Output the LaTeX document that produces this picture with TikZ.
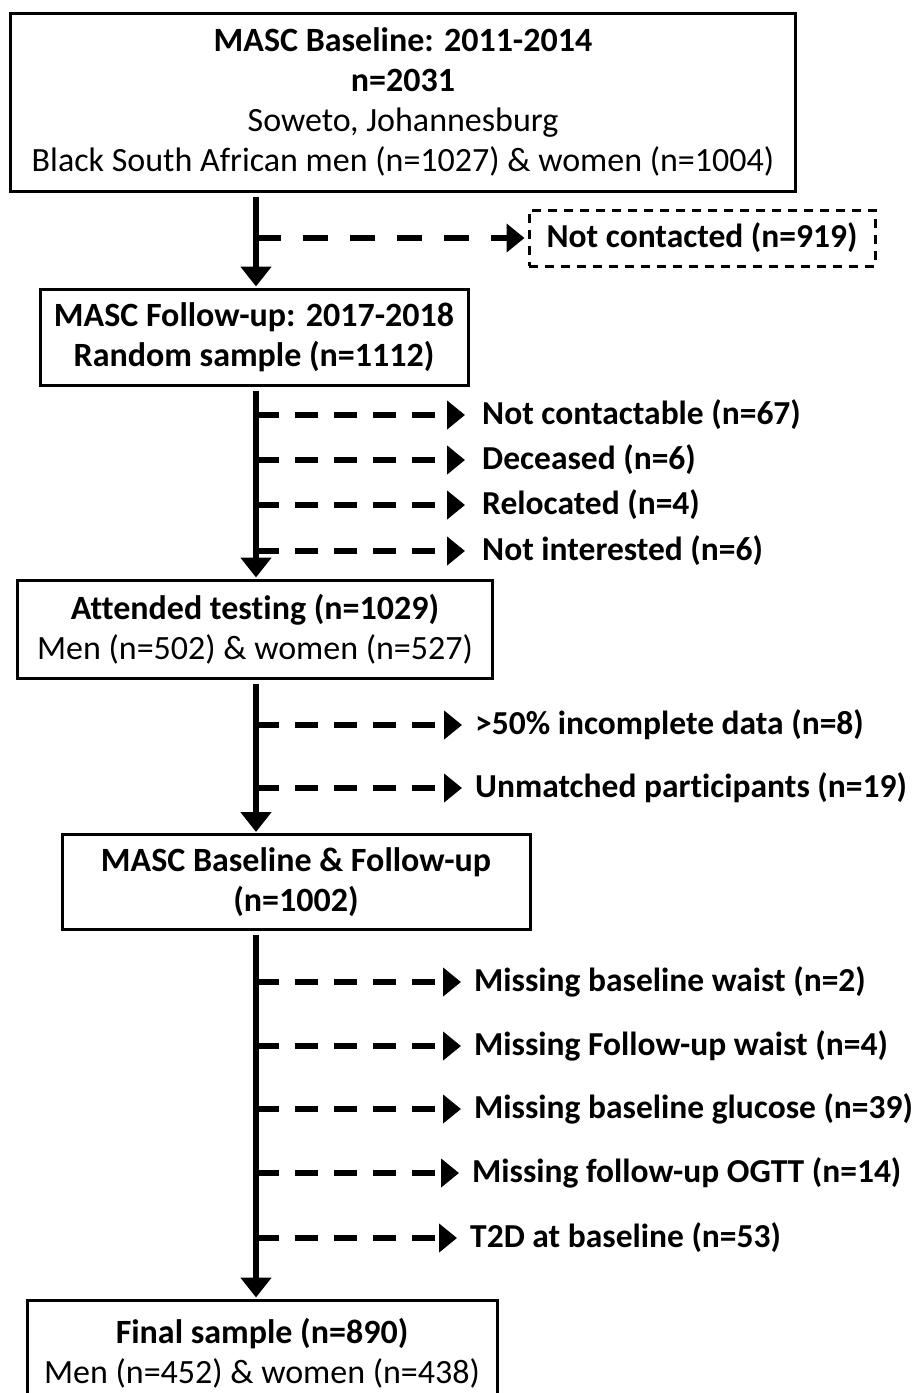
\documentclass[tikz,border=0pt]{standalone}
\usepackage{fontspec}
\setmainfont{Carlito}[Ligatures=NoCommon]
\usetikzlibrary{arrows.meta}
\begin{document}
\begin{tikzpicture}[x=1pt,y=-1pt,
  txt/.style={font=\fontsize{34}{40}\selectfont},
  box/.style={txt,draw,line width=3pt,align=center,inner sep=0pt},
  dbox/.style={draw,line width=3pt,dash pattern=on 9pt off 7pt,inner sep=0pt,font=\fontsize{33.5}{40}\selectfont\bfseries},
  lab/.style={anchor=west,inner sep=0pt,font=\fontsize{33.5}{40}\selectfont\bfseries},
  mainarrow/.style={line width=5.5pt,-{Triangle[length=20pt,width=30pt]},shorten <=4pt,shorten >=1pt},
  darrow/.style={line width=6.5pt,dash pattern=on 23pt off 16pt,-{Triangle[length=18pt,width=28pt]}},
]
\useasboundingbox (0,0) rectangle (915,1393);

% main boxes
\node[box,minimum width=785pt,minimum height=178pt] (b1) at (403,102)
  {\textbf{MASC Baseline: 2011-2014}\\ \textbf{n=2031}\\ Soweto, Johannesburg\\ Black South African men (n=1027) \& women (n=1004)};
\node[box,minimum width=428pt,minimum height=96pt] (b2) at (254,337)
  {\textbf{MASC Follow-up: 2017-2018}\\ \textbf{Random sample (n=1112)}};
\node[box,minimum width=475pt,minimum height=98pt] (b3) at (255,629)
  {\textbf{Attended testing (n=1029)}\\ Men (n=502) \& women (n=527)};
\node[box,minimum width=468pt,minimum height=95pt] (b4) at (296,882)
  {\textbf{MASC Baseline \& Follow-up}\\ \textbf{(n=1002)}};
\node[box,minimum width=470pt,minimum height=106pt] (b5) at (262,1353)
  {\textbf{Final sample (n=890)}\\ Men (n=452) \& women (n=438)};

% not contacted
\node[dbox,minimum width=346pt,minimum height=56pt] (nc) at (702,238) {Not contacted (n=919)};

% main line x
\coordinate (mx) at (256,0);
\draw[mainarrow] (b1.south -| mx) -- (b2.north -| mx);
\draw[mainarrow] (b2.south -| mx) -- (b3.north -| mx);
\draw[mainarrow] (b3.south -| mx) -- (b4.north -| mx);
\draw[mainarrow] (b4.south -| mx) -- (b5.north -| mx);

% exclusion 0
\coordinate (r0) at (256,238);
\draw[darrow,dash pattern=on 25pt off 22pt,shorten >=3pt] (r0) -- (nc.west);

% group 1
\coordinate (r1) at (256,415);
\coordinate (r2) at (256,460);
\coordinate (r3) at (256,505);
\coordinate (r4) at (256,551);
\node[lab] (l1) at (482,415) {Not contactable (n=67)};
\node[lab] (l2) at (482,460) {Deceased (n=6)};
\node[lab] (l3) at (482,505) {Relocated (n=4)};
\node[lab] (l4) at (482,551) {Not interested (n=6)};
\foreach \i in {1,...,4} \draw[darrow,shorten >=17pt] (r\i) -- (l\i.west);

% group 2
\coordinate (r5) at (256,725);
\coordinate (r6) at (256,788);
\node[lab] (l5) at (475,725) {>50\% incomplete data (n=8)};
\node[lab] (l6) at (475,788) {Unmatched participants (n=19)};
\foreach \i in {5,6} \draw[darrow,shorten >=13pt] (r\i) -- (l\i.west);

% group 3
\coordinate (r7) at (256,982);
\coordinate (r8) at (256,1046);
\coordinate (r9) at (256,1109);
\coordinate (r10) at (256,1173);
\coordinate (r11) at (256,1238);
\node[lab] (l7) at (474,982) {Missing baseline waist (n=2)};
\node[lab] (l8) at (474,1046) {Missing Follow-up waist (n=4)};
\node[lab] (l9) at (474,1109) {Missing baseline glucose (n=39)};
\node[lab] (l10) at (472,1173) {Missing follow-up OGTT (n=14)};
\node[lab] (l11) at (470,1238) {T2D at baseline (n=53)};
\foreach \i in {7,...,11} \draw[darrow,shorten >=13pt] (r\i) -- (l\i.west);
\end{tikzpicture}
\end{document}
